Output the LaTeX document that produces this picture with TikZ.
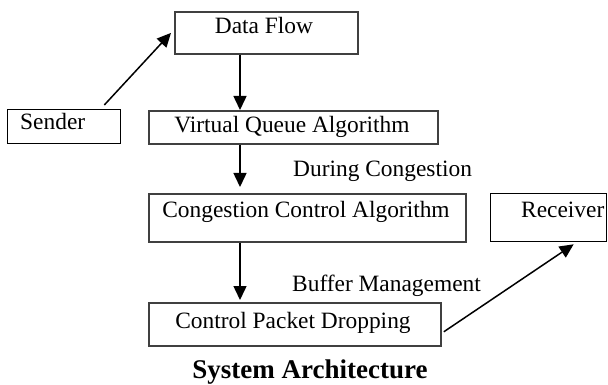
\documentclass[tikz,border=0pt]{standalone}
\usepackage{fontspec}
\setmainfont{Liberation Serif}
\usetikzlibrary{arrows.meta,calc}
\begin{document}
\begin{tikzpicture}[x=1pt,y=-1pt,
  graybox/.style={draw=black!75,line width=1.8pt,inner sep=0pt,anchor=north west},
  blackbox/.style={draw=black,line width=1.3pt,inner sep=0pt,anchor=north west},
  lbl/.style={inner sep=0pt,font=\fontsize{23.4}{28}\selectfont},
  arr/.style={line width=1.5pt,-{Triangle[length=14pt,width=13pt]}}]
\useasboundingbox (0,0) rectangle (608,385);
% boxes
\node[graybox,minimum width=183pt,minimum height=42pt] (df) at (174,11) {};
\node[blackbox,minimum width=113pt,minimum height=34pt] (snd) at (7,109) {};
\node[graybox,minimum width=289pt,minimum height=33pt] (vq) at (148,110) {};
\node[graybox,minimum width=317pt,minimum height=48pt] (cca) at (148,193) {};
\node[blackbox,minimum width=116pt,minimum height=48pt] (rcv) at (490,193) {};
\node[graybox,minimum width=292pt,minimum height=43pt] (cpd) at (148,302) {};
% texts
\node[lbl,anchor=base] (tdf) at (264,34) {Data Flow};
\node[lbl,anchor=base west] (tsnd) at (20,130) {Sender};
\node[lbl,anchor=base] (tvq) at (292,133) {Virtual Queue Algorithm};
\node[lbl,anchor=base west] (tdc) at (293,177) {During Congestion};
\node[lbl,anchor=base] (tcca) at (306,217) {Congestion Control Algorithm};
\node[lbl,anchor=base west] (trcv) at (521,217) {Receiver};
\node[lbl,anchor=base west] (tbm) at (292,291) {Buffer Management};
\node[lbl,anchor=base] (tcpd) at (293,328) {Control Packet Dropping};
\node[inner sep=0pt,anchor=base,font=\fontsize{27}{32}\selectfont\bfseries] (cap) at (310,378) {System Architecture};
% connectors
\draw[arr] ($(snd.north east)+(-17,-4)$) -- ($(df.west)+(-3,0)$);
\draw[arr] ($(df.south west)+(66,0)$) -- ($(vq.north west)+(92,0)$);
\draw[arr] ($(vq.south west)+(92,0)$) -- ($(cca.north west)+(92,-6)$);
\draw[arr] ($(cca.south west)+(92,0)$) -- ($(cpd.north west)+(92,-2)$);
\draw[arr] ($(cpd.south east)+(2,-15)$) -- ($(rcv.south)+(25,2)$);
\end{tikzpicture}
\end{document}
